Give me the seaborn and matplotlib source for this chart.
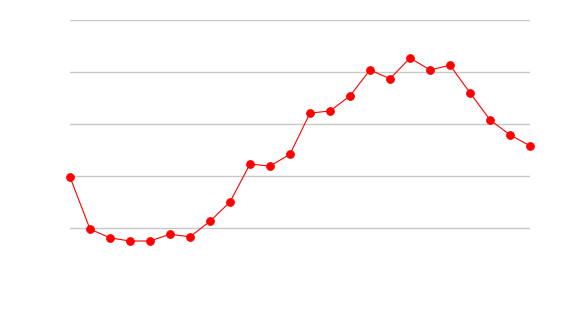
import matplotlib
matplotlib.use("Agg")
import matplotlib.pyplot as plt
import seaborn as sns
import pandas as pd

x_index = list(range(24))
values = [1.98, 0.98, 0.81, 0.75, 0.75, 0.88, 0.83, 1.13, 1.50, 2.23, 2.19, 2.42,
          3.21, 3.25, 3.54, 4.04, 3.87, 4.27, 4.04, 4.13, 3.60, 3.08, 2.79, 2.58]
y_ticks = [1, 2, 3, 4, 5]

df = pd.DataFrame({"x": x_index, "y": values})

sns.set_theme(style="white")
fig = plt.figure(figsize=(5.7, 3.2), dpi=100)
ax = fig.add_axes([70/570, 1 - 280/320, 460/570, 260/320])

sns.lineplot(data=df, x="x", y="y", ax=ax, color="#ff0000", linewidth=0.8,
             marker="o", markersize=5.5, markeredgecolor="#ff0000",
             markerfacecolor="#ff0000", clip_on=False, zorder=3)

ax.set_xlim(0, 23)
ax.set_ylim(0, 5)
ax.set_yticks(y_ticks)
ax.yaxis.grid(True, color="#c8c8c8", linewidth=1)
ax.xaxis.grid(False)
ax.set_xticks([])
ax.tick_params(axis="y", length=0, labelleft=False)
ax.set_xlabel("")
ax.set_ylabel("")
for s in ax.spines.values():
    s.set_visible(False)

fig.savefig("out.png", dpi=100)
